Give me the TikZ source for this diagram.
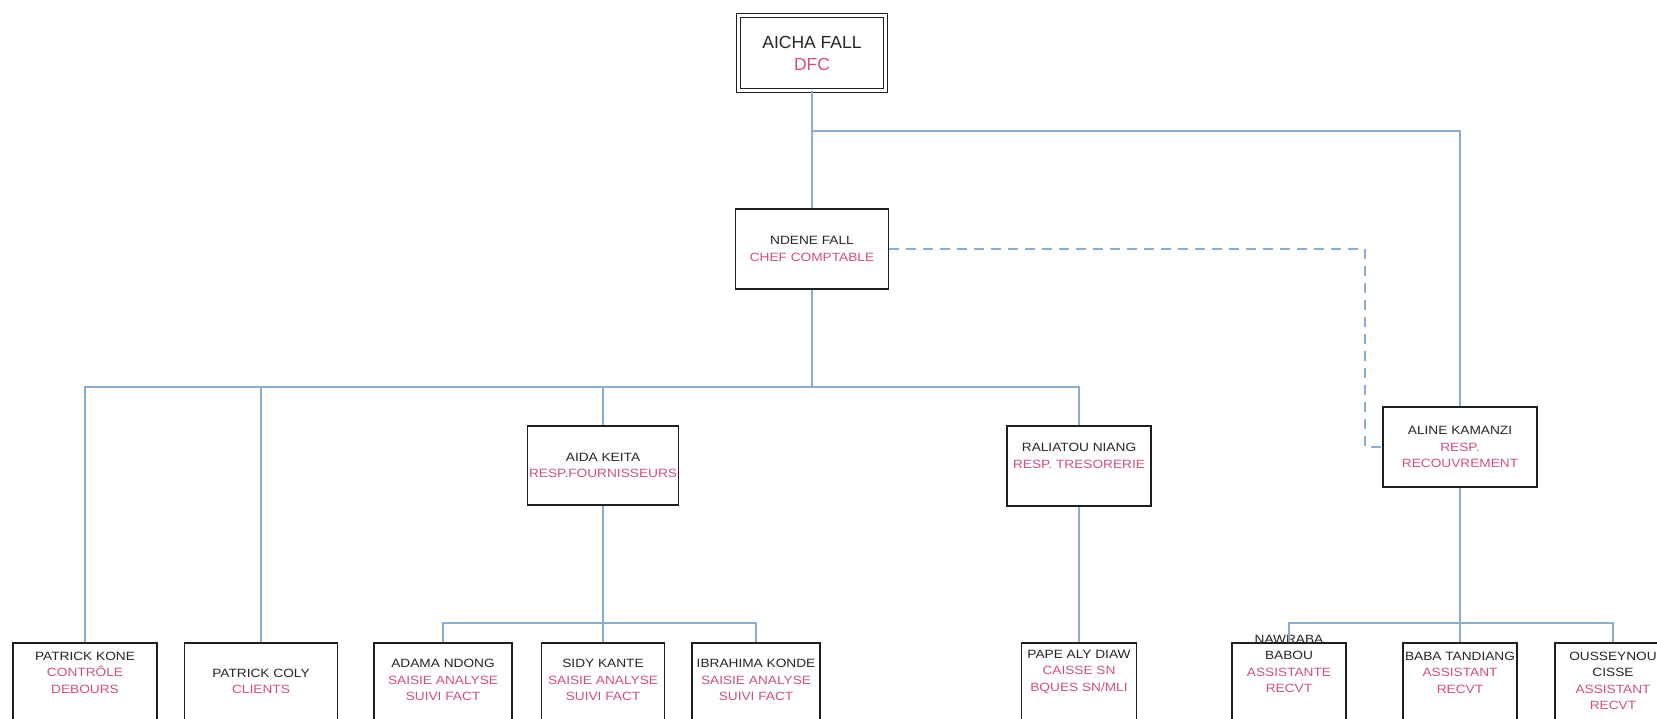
\documentclass[tikz,border=0pt]{standalone}
\usepackage{fontspec}
\setmainfont{Liberation Sans}
\newfontfamily\orgfont{Liberation Sans}[FakeStretch=1.14]
\definecolor{namecol}{HTML}{262626}
\definecolor{rolecol}{HTML}{D24E84}
\definecolor{linkcol}{HTML}{8AAED0}
\definecolor{boxcol}{HTML}{1E1E1E}
\newcommand\roletxt[1]{\textcolor{rolecol}{#1}}
\begin{document}
\begin{tikzpicture}[x=1pt, y={(0pt,-1pt)},
  unit/.style={draw=boxcol, line width=1.6pt, fill=white, inner sep=0pt,
    align=center, text=namecol, font=\orgfont\fontsize{12}{16.5}\selectfont},
  leaf/.style={unit, anchor=north, minimum height=110pt},
  txt/.style={inner sep=0pt, align=center, text=namecol,
    font=\orgfont\fontsize{12}{16.5}\selectfont},
  link/.style={draw=linkcol, line width=1.2pt},
  dashlink/.style={link, dash pattern=on 10pt off 7pt}]
\clip (0,0) rectangle (1657,718);
\fill[white] (0,0) rectangle (1657,718);

% director
\node[draw=boxcol, line width=1.3pt, double, double distance=2.4pt, fill=white,
  minimum width=147pt, minimum height=75pt, inner sep=0pt, align=center,
  text=namecol, font=\fontsize{17.5}{22}\selectfont] (dfc) at (812,53)
  {AICHA FALL\\\roletxt{DFC}};

% second and third levels
\node[unit, minimum width=153pt, minimum height=80pt] (chef) at (812,249)
  {NDENE FALL\\\roletxt{CHEF COMPTABLE}};
\node[unit, minimum width=151pt, minimum height=79pt] (aida) at (603,465.5)
  {AIDA KEITA\\\roletxt{RESP.FOURNISSEURS}};
\node[unit, minimum width=144pt, minimum height=80pt] (rali) at (1079,466) {};
\node[txt] (ralitxt) at (1079,456) {RALIATOU NIANG\\\roletxt{RESP. TRESORERIE}};
\node[unit, minimum width=154pt, minimum height=80pt] (aline) at (1460,447)
  {ALINE KAMANZI\\\roletxt{RESP.}\\\roletxt{RECOUVREMENT}};

% staff boxes
\node[leaf, minimum width=144pt] (kone)  at (85,642) {};
\node[leaf, minimum width=153pt] (coly)  at (261,642) {};
\node[leaf, minimum width=138pt] (adama) at (443,642) {};
\node[leaf, minimum width=123pt] (sidy)  at (603,642) {};
\node[leaf, minimum width=128pt] (ibra)  at (756,642) {};
\node[leaf, minimum width=115pt] (pape)  at (1079,642) {};
\node[leaf, minimum width=114pt] (naw)   at (1289,642) {};
\node[leaf, minimum width=114pt] (baba)  at (1460,642) {};
\node[leaf, minimum width=116pt] (ouss)  at (1613,642) {};

\node[txt] at (85,672.5) {PATRICK KONE\\\roletxt{CONTRÔLE}\\\roletxt{DEBOURS}};
\node[txt] at (261,681.5) {PATRICK COLY\\\roletxt{CLIENTS}};
\node[txt] at (443,680) {ADAMA NDONG\\\roletxt{SAISIE ANALYSE}\\\roletxt{SUIVI FACT}};
\node[txt] at (603,680) {SIDY KANTE\\\roletxt{SAISIE ANALYSE}\\\roletxt{SUIVI FACT}};
\node[txt] at (756,680) {IBRAHIMA KONDE\\\roletxt{SAISIE ANALYSE}\\\roletxt{SUIVI FACT}};
\node[txt] at (1079,671.5) {PAPE ALY DIAW\\\roletxt{CAISSE SN}\\\roletxt{BQUES SN/MLI}};
\node[txt] at (1289,664) {NAWRABA\\BABOU\\\roletxt{ASSISTANTE}\\\roletxt{RECVT}};
\node[txt] at (1460,672.5) {BABA TANDIANG\\\roletxt{ASSISTANT}\\\roletxt{RECVT}};
\node[txt] at (1613,681) {OUSSEYNOU\\CISSE\\\roletxt{ASSISTANT}\\\roletxt{RECVT}};

% junction points of the tree
\coordinate (j1) at (812,131);
\coordinate (j2) at (812,387);
\coordinate (j3) at (603,623);
\coordinate (j4) at (1460,623);
\coordinate (d1) at (1365,350);

\draw[link] (dfc.south) -- (chef.north);
\draw[link] (j1) -| (aline.north);
\draw[link] (chef.south) -- (j2);
\draw[link] (kone.north) |- (j2) -| (rali.north);
\draw[link] (coly.north) -- (coly.north |- j2);
\draw[link] (aida.north) -- (aida.north |- j2);
\draw[link] (aida.south) -- (j3);
\draw[link] (adama.north) |- (j3) -| (ibra.north);
\draw[link] (sidy.north) -- (sidy.north |- j3);
\draw[link] (rali.south) -- (pape.north);
\draw[link] (aline.south) -- (j4);
\draw[link] (naw.north) |- (j4) -| (ouss.north);
\draw[link] (baba.north) -- (baba.north |- j4);
\draw[dashlink] (chef.east) -| (d1) |- (aline.west);
\end{tikzpicture}
\end{document}
